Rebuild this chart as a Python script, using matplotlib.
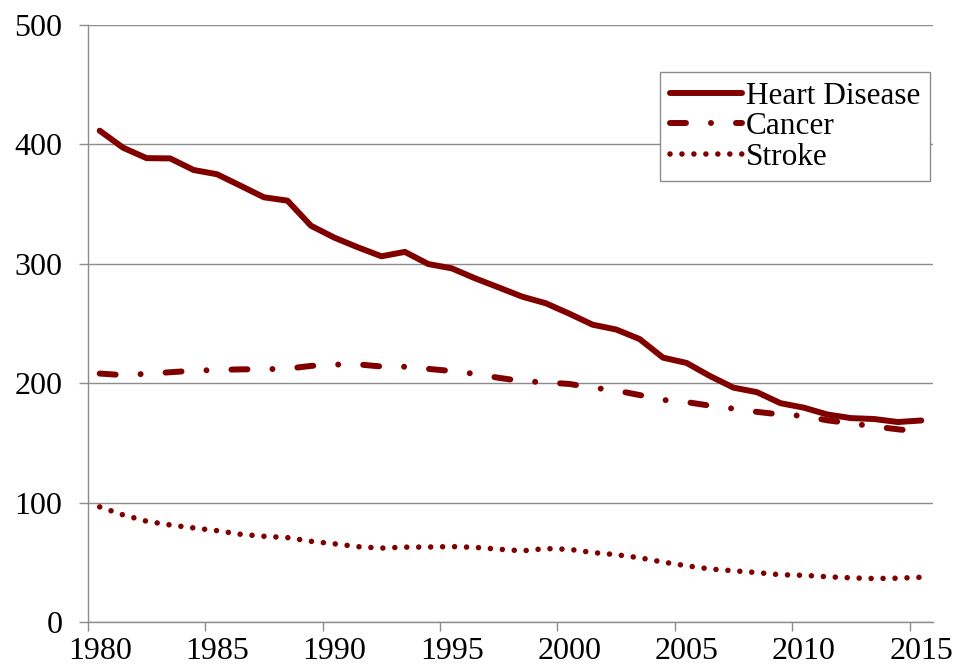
import matplotlib
matplotlib.use("Agg")
import matplotlib.pyplot as plt
import numpy as np

plt.rcParams["font.family"] = ["Liberation Serif", "DejaVu Serif"]
plt.rcParams["lines.scale_dashes"] = False

years = list(range(1980, 2016))

heart_disease = [411.5, 397.2, 388.5, 388.3, 378.6, 375.0, 365.4, 355.7, 352.9, 331.9,
                 321.9, 313.8, 306.3, 310.0, 299.8, 296.2, 287.8, 280.2, 272.5, 267.0,
                 258.3, 249.0, 245.0, 237.0, 221.4, 217.0, 206.0, 196.3, 192.5, 183.3,
                 179.5, 173.8, 170.8, 170.0, 167.5, 168.8]
cancer = [208.1, 206.8, 207.9, 209.2, 210.5, 211.1, 211.6, 211.7, 212.2, 214.5,
          215.6, 215.8, 214.0, 213.8, 212.0, 210.2, 207.8, 204.5, 201.8, 200.7,
          199.4, 196.3, 193.9, 190.1, 186.0, 184.2, 181.2, 178.7, 176.0, 173.8,
          172.6, 168.9, 166.4, 163.8, 161.4, 159.4]
stroke = [96.4, 89.7, 84.4, 81.3, 78.8, 76.5, 73.5, 71.8, 70.7, 67.6,
          65.5, 63.1, 61.9, 62.7, 62.8, 63.2, 62.5, 61.0, 59.6, 61.5,
          60.9, 58.2, 56.4, 53.8, 50.2, 47.1, 44.4, 42.9, 41.4, 39.6,
          39.1, 37.9, 37.0, 36.4, 36.7, 37.5]

tick_years = [1980, 1985, 1990, 1995, 2000, 2005, 2010, 2015]
y_ticks = [0, 100, 200, 300, 400, 500]

maroon = "#800000"
grid_gray = "#8c8c8c"

# points sit in the middle of each year's slot
x = np.array(years) + 0.5

fig = plt.figure(figsize=(9.54, 6.71), dpi=100)
ax = fig.add_axes([0.0922, 0.073, 0.8858, 0.8897])

ax.plot(x, heart_disease, color=maroon, lw=4.3, solid_capstyle="round",
        solid_joinstyle="round", label="Heart Disease")
ax.plot(x, cancer, color=maroon, lw=4.3, linestyle=(0, (11.5, 18, 0.01, 18)),
        dash_capstyle="round", label="Cancer")
ax.plot(x, stroke, color=maroon, lw=4.0, linestyle=(0, (0.01, 8.6)),
        dash_capstyle="round", label="Stroke")

ax.set_xlim(1980, 2016)
ax.set_ylim(0, 500)

ax.set_yticks(y_ticks)
ax.tick_params(axis="y", length=6.5, width=1, color=grid_gray, pad=12, labelsize=23)
ax.yaxis.grid(True, color=grid_gray, lw=1)
ax.set_axisbelow(True)

# major ticks mark slot edges, year labels go on minor ticks at slot centres
ax.set_xticks(tick_years)
ax.set_xticklabels([])
ax.set_xticks([t + 0.5 for t in tick_years], minor=True)
ax.set_xticklabels([str(t) for t in tick_years], minor=True)
ax.tick_params(axis="x", which="major", length=6.5, width=1, color=grid_gray)
ax.tick_params(axis="x", which="minor", length=0, pad=11, labelsize=23)

for side in ["top", "right"]:
    ax.spines[side].set_visible(False)
for side in ["left", "bottom"]:
    ax.spines[side].set_color(grid_gray)
    ax.spines[side].set_linewidth(1)

leg = ax.legend(loc="upper right", bbox_to_anchor=(0.9964, 0.921), borderaxespad=0,
                fontsize=22.5, handlelength=2.3, handletextpad=0.15, labelspacing=0.05,
                borderpad=0.3, fancybox=False, framealpha=1, edgecolor=grid_gray)
leg.get_frame().set_linewidth(1)

fig.savefig("out.png", dpi=100)
